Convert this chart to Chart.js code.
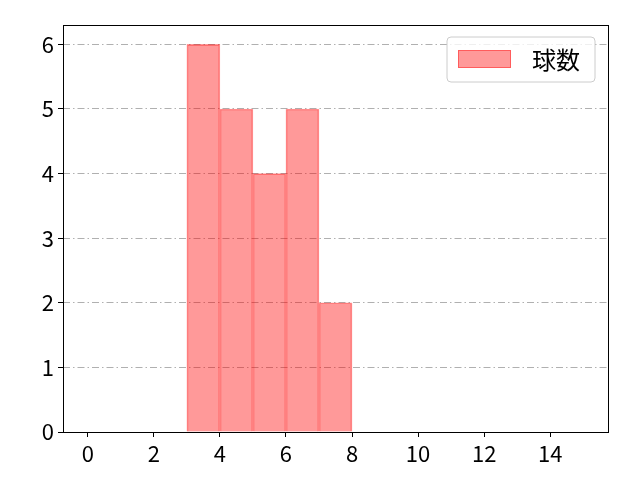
<!DOCTYPE html>
<html>
<head>
<meta charset="utf-8">
<script src="https://cdn.jsdelivr.net/npm/chart.js@4"></script>
<style>
  html, body { margin: 0; padding: 0; background: #fff; }
  #wrap { width: 640px; height: 480px; }
</style>
</head>
<body>
<div id="wrap"><canvas id="histChart" width="640" height="480"></canvas></div>
<script>
// histogram bins (left edge) and counts
var binStarts = [3, 4, 5, 6, 7];
var counts = [6, 5, 4, 5, 2];
var seriesLabel = '球数';
var xTicks = [0, 2, 4, 6, 8, 10, 12, 14];
var yTicks = [0, 1, 2, 3, 4, 5, 6];

var FONT = '"Noto Sans CJK JP", "Noto Sans", sans-serif';
var FILL = 'rgba(255, 0, 0, 0.4)';
var EDGE = 'rgba(255, 0, 0, 0.4)';

var points = binStarts.map(function (b, i) {
    return { x: b + 0.5, y: counts[i] };
});

// frame around plot + matplotlib style legend
var framePlugin = {
    id: 'frame',
    afterDraw: function (chart) {
        var ctx = chart.ctx;
        var a = chart.chartArea;
        ctx.save();
        ctx.strokeStyle = '#000';
        ctx.lineWidth = 1;
        ctx.strokeRect(Math.round(a.left) + 0.5, Math.round(a.top) + 0.5,
            Math.round(a.right - a.left), Math.round(a.bottom - a.top));

        // legend
        var bx = 447, by = 37, bw = 148, bh = 45, r = 4;
        ctx.fillStyle = 'rgba(255,255,255,0.8)';
        ctx.strokeStyle = '#cccccc';
        ctx.beginPath();
        ctx.moveTo(bx + r, by);
        ctx.arcTo(bx + bw, by, bx + bw, by + bh, r);
        ctx.arcTo(bx + bw, by + bh, bx, by + bh, r);
        ctx.arcTo(bx, by + bh, bx, by, r);
        ctx.arcTo(bx, by, bx + bw, by, r);
        ctx.closePath();
        ctx.fill();
        ctx.stroke();

        ctx.fillStyle = FILL;
        ctx.fillRect(458, 50, 53, 18);
        ctx.strokeStyle = EDGE;
        ctx.strokeRect(458.5, 50.5, 52, 17);

        ctx.fillStyle = '#000';
        ctx.font = '24px ' + FONT;
        ctx.textBaseline = 'middle';
        ctx.textAlign = 'left';
        ctx.fillText(seriesLabel, 532, 60);
        ctx.restore();
    }
};

var config = {
    type: 'bar',
    data: {
        datasets: [{
            label: seriesLabel,
            data: points,
            backgroundColor: FILL,
            borderColor: EDGE,
            borderWidth: 1,
            barPercentage: 1.0,
            categoryPercentage: 1.0,
            grouped: false
        }]
    },
    options: {
        responsive: false,
        animation: false,
        devicePixelRatio: 1,
        layout: { padding: { top: 25, right: 32, left: 0, bottom: 0 } },
        plugins: {
            legend: { display: false },
            tooltip: { enabled: false }
        },
        scales: {
            x: {
                type: 'linear',
                min: -0.75,
                max: 15.75,
                offset: false,
                afterBuildTicks: function (axis) {
                    axis.ticks = xTicks.map(function (v) { return { value: v }; });
                },
                afterFit: function (axis) { axis.height = 48; },
                grid: {
                    offset: false,
                    drawOnChartArea: false,
                    drawTicks: true,
                    tickLength: 5,
                    tickColor: '#000'
                },
                border: { display: false },
                ticks: {
                    color: '#000',
                    padding: 3,
                    maxRotation: 0,
                    autoSkip: false,
                    font: { family: FONT, size: 22 }
                }
            },
            y: {
                min: 0,
                max: 6.3,
                afterBuildTicks: function (axis) {
                    axis.ticks = yTicks.map(function (v) { return { value: v }; });
                },
                afterFit: function (axis) { axis.width = 63; },
                grid: {
                    color: '#b0b0b0',
                    lineWidth: 1,
                    drawTicks: true,
                    tickLength: 5,
                    tickColor: '#000'
                },
                border: { display: false, dash: [7, 3, 1.5, 3] },
                ticks: {
                    color: '#000',
                    padding: 4,
                    autoSkip: false,
                    font: { family: FONT, size: 22 }
                }
            }
        }
    },
    plugins: [framePlugin]
};

var histChart = new Chart(document.getElementById('histChart'), config);
</script>
</body>
</html>
